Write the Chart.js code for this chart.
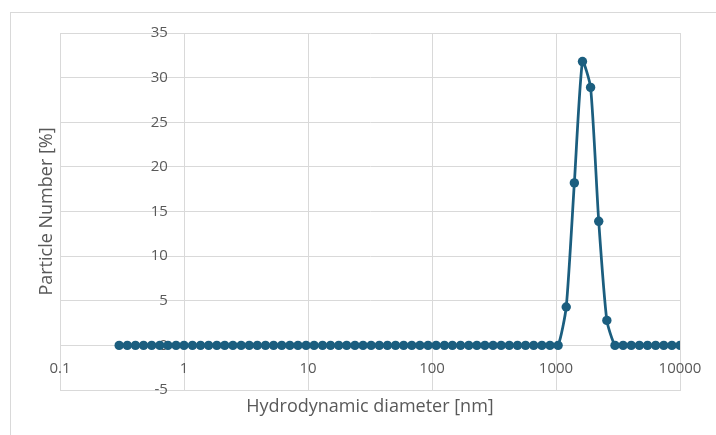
<!DOCTYPE html>
<html><head><meta charset="utf-8">
<script src="https://cdn.jsdelivr.net/npm/chart.js@4/dist/chart.umd.min.js"></script>
<style>
html,body{margin:0;padding:0;background:#fff;overflow:hidden}
#frame{position:absolute;left:10px;top:12px;width:800px;height:600px;border:1px solid #d9d9d9;box-sizing:border-box}
#c{position:absolute;left:0;top:0}
</style></head><body>
<div id="frame"></div>
<canvas id="c" width="716" height="435"></canvas>
<script>
// Size classes (nm)
const diameters = [
  0.300, 0.349, 0.406, 0.472, 0.549, 0.638, 0.742, 0.863, 1.00, 1.17,
  1.36, 1.58, 1.84, 2.13, 2.48, 2.89, 3.36, 3.90, 4.54, 5.28,
  6.14, 7.14, 8.30, 9.65, 11.2, 13.1, 15.2, 17.7, 20.5, 23.9,
  27.8, 32.3, 37.6, 43.7, 50.8, 59.1, 68.7, 79.9, 92.9, 108,
  126, 146, 170, 198, 230, 267, 311, 361, 420, 489,
  568, 661, 769, 894, 1040, 1209, 1406, 1635, 1901, 2211,
  2571, 2990, 3478, 4044, 4703, 5470, 6361, 7397, 8603, 10000
];
// Particle number (%)
const particleNumber = [
  0, 0, 0, 0, 0, 0, 0, 0, 0, 0,
  0, 0, 0, 0, 0, 0, 0, 0, 0, 0,
  0, 0, 0, 0, 0, 0, 0, 0, 0, 0,
  0, 0, 0, 0, 0, 0, 0, 0, 0, 0,
  0, 0, 0, 0, 0, 0, 0, 0, 0, 0,
  0, 0, 0, 0, 0, 4.3, 18.2, 31.8, 28.9, 13.9,
  2.8, 0, 0, 0, 0, 0, 0, 0, 0, 0
];
const xTickValues = [0.1, 1, 10, 100, 1000, 10000];
const xTickLabels = ['0.1', '1', '10', '100', '1000', '10000'];
const yTickValues = [-5, 0, 5, 10, 15, 20, 25, 30, 35];
const yTickLabels = ['-5', '0', '5', '10', '15', '20', '25', '30', '35'];
const xTitle = 'Hydrodynamic diameter [nm]';
const yTitle = 'Particle Number [%]';

const FONT = "'Open Sans', 'Liberation Sans', sans-serif";
const TEXT = '#595959';
const GRID = '#d9d9d9';
const LINE = '#1b5e7f';
const yLabelAnchor = 0.74; // x-value where the right edge of y tick labels sits

const setX = s => { s.ticks = xTickValues.map(v => ({value: v})); };
const setY = s => { s.ticks = yTickValues.map(v => ({value: v})); };
const xLab = v => xTickLabels[xTickValues.indexOf(v)];
const yLab = v => yTickLabels[yTickValues.indexOf(v)];

new Chart(document.getElementById('c'), {
  type: 'line',
  data: {
    datasets: [{
      data: diameters.map((d, i) => ({x: d, y: particleNumber[i]})),
      borderColor: LINE,
      backgroundColor: LINE,
      borderWidth: 2.75,
      pointRadius: 4.7,
      pointBackgroundColor: LINE,
      pointBorderColor: LINE,
      pointBorderWidth: 0,
      tension: 0.2,
      xAxisID: 'x',
      yAxisID: 'y'
    }]
  },
  options: {
    responsive: false,
    animation: false,
    devicePixelRatio: 1,
    layout: {padding: {top: 33, right: 36, left: 0, bottom: 0}},
    plugins: {legend: {display: false}, tooltip: {enabled: false}},
    scales: {
      x: {
        type: 'logarithmic', position: 'bottom', min: 0.1, max: 10000,
        afterBuildTicks: setX,
        afterFit: s => { s.height = 45; },
        grid: {color: GRID, lineWidth: 1, drawTicks: false},
        border: {color: GRID},
        ticks: {display: false},
        title: {display: true, text: xTitle, color: TEXT, font: {family: FONT, size: 18}, padding: {top: 0, bottom: 17}}
      },
      y: {
        type: 'linear', position: 'left', min: -5, max: 35,
        afterBuildTicks: setY,
        afterFit: s => { s.width = 60; },
        grid: {color: GRID, lineWidth: 1, drawTicks: false},
        border: {color: GRID},
        ticks: {display: false},
        title: {display: true, text: yTitle, color: TEXT, font: {family: FONT, size: 18}, padding: {top: 36, bottom: 0}}
      },
      xl: {
        type: 'logarithmic', position: {y: 0}, min: 0.1, max: 10000,
        afterBuildTicks: setX,
        afterFit: s => { s.height = 0; },
        grid: {display: false, drawTicks: false},
        border: {display: false},
        ticks: {autoSkip: false, maxRotation: 0, padding: 14, color: TEXT, font: {family: FONT, size: 15}, callback: xLab}
      },
      yl: {
        type: 'linear', position: {x: yLabelAnchor}, min: -5, max: 35,
        afterBuildTicks: setY,
        afterFit: s => { s.width = 0; },
        grid: {display: false, drawTicks: false},
        border: {display: false},
        ticks: {autoSkip: false, color: TEXT, font: {family: FONT, size: 15}, callback: yLab}
      }
    }
  }
});
</script>
</body></html>
